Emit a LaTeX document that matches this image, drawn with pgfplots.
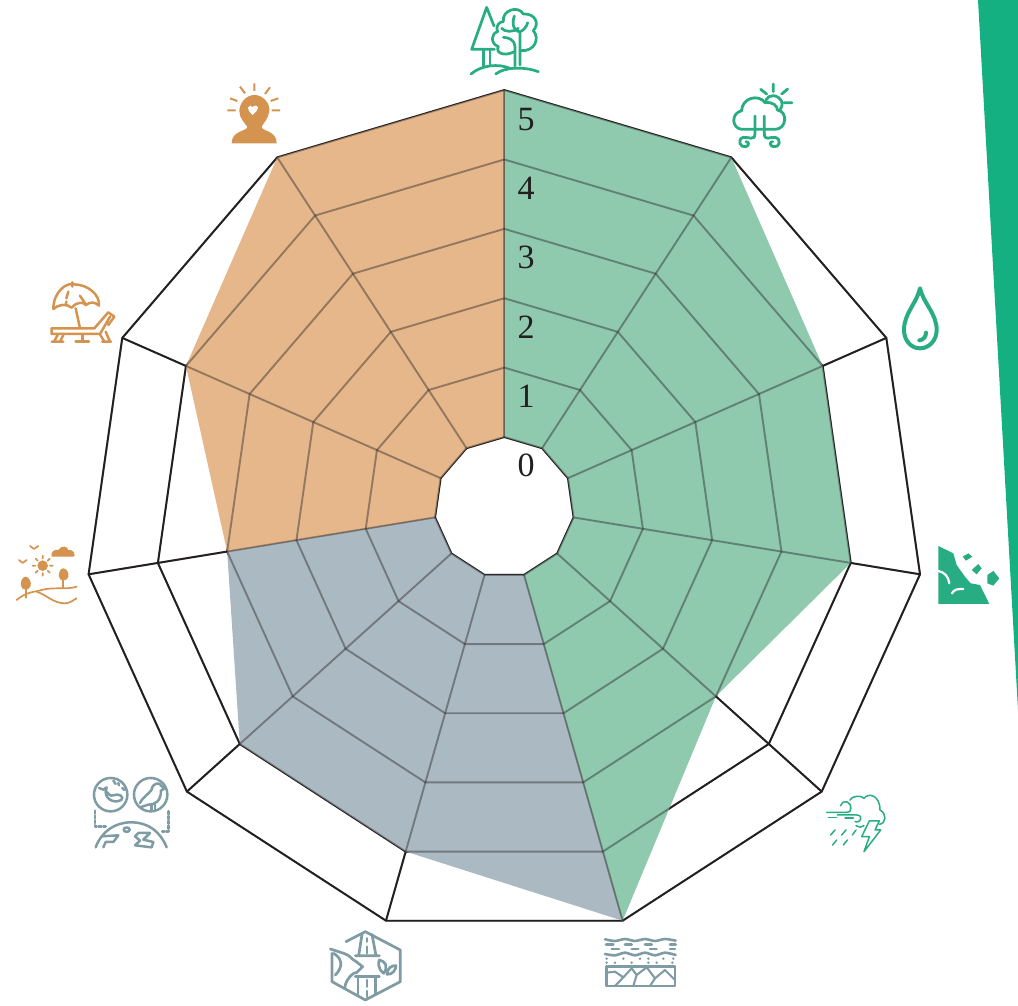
\documentclass[border=0pt]{standalone}
\usepackage{fontspec}
\setmainfont{Liberation Serif}
\usepackage{pgfplots}
\usepackage{pgfplotstable}
\pgfplotsset{compat=1.18}
\definecolor{ink}{HTML}{231F20}
\definecolor{wedge}{HTML}{14B082}
\definecolor{green1}{HTML}{8FC9AE}
\definecolor{gray1}{HTML}{ABBAC2}
\definecolor{orange1}{HTML}{E5B78B}
\definecolor{icg}{HTML}{27AD81}
\definecolor{icb}{HTML}{7F9BA4}
\definecolor{ico}{HTML}{D4934F}

% wedge values: angle (math degrees), value on the 0-5 scale
\pgfplotstableread{
a v
90 5
57.273 5
24.545 4
-8.182 4
-40.909 3
-73.636 5
-73.636 0
-40.909 0
-8.182 0
24.545 0
57.273 0
90 0
}\greendata
\pgfplotstableread{
a v
-73.636 5
-106.364 4
-139.091 4
-171.818 3
-171.818 0
-139.091 0
-106.364 0
-73.636 0
}\graydata
\pgfplotstableread{
a v
-171.818 3
-204.545 4
-237.273 5
-270 5
-270 0
-237.273 0
-204.545 0
-171.818 0
}\orangedata
\pgfplotstableread{
a v
90 0
57.273 0
24.545 0
-8.182 0
-40.909 0
-73.636 0
-106.364 0
-139.091 0
-171.818 0
-204.545 0
-237.273 0
-270 0
}\ringangles

% the rings have a hole in the middle and are not quite concentric
\newcommand\Rx[2]{(70+70*(#2))*cos(#1)}
\newcommand\Ry[2]{(70.4+70.7*(#2))*sin(#1)-1.32*(#2)}

\newcommand\drawgrid[1]{%
  \pgfplotsinvokeforeach{0,1,2,3,4,5}{
    \addplot[#1, line width=1.9pt, line join=miter]
      table[x expr={\Rx{\thisrow{a}}{##1}}, y expr={\Ry{\thisrow{a}}{##1}}] {\ringangles};
  }
  \pgfplotsinvokeforeach{90,57.273,24.545,-8.182,-40.909,-73.636,-106.364,-139.091,-171.818,-204.545,-237.273}{
    \addplot[#1, line width=1.9pt]
      table[x expr={\Rx{##1}{\thisrow{v}}}, y expr={\Ry{##1}{\thisrow{v}}}, row sep=\\] {v w\\ 0 0\\ 5 0\\};
  }
}

\tikzset{crop/.style 2 args={shift={(#1pt,1005pt-#2pt)},x=0.33333pt,y=-0.33333pt}}

\begin{document}
\begin{tikzpicture}
\useasboundingbox (0,0) rectangle (1018pt,1005pt);
\begin{axis}[
  x=1pt, y=1pt,
  xmin=-504.3, xmax=513.7,
  ymin=-497.6, ymax=507.4,
  hide axis, clip=false,
]
\drawgrid{ink}
\addplot[fill=green1, draw=none]
  table[x expr={\Rx{\thisrow{a}}{\thisrow{v}}}, y expr={\Ry{\thisrow{a}}{\thisrow{v}}}] {\greendata};
\addplot[fill=gray1, draw=none]
  table[x expr={\Rx{\thisrow{a}}{\thisrow{v}}}, y expr={\Ry{\thisrow{a}}{\thisrow{v}}}] {\graydata};
\addplot[fill=orange1, draw=none]
  table[x expr={\Rx{\thisrow{a}}{\thisrow{v}}}, y expr={\Ry{\thisrow{a}}{\thisrow{v}}}] {\orangedata};
% the grid shows through the fills
\drawgrid{ink, opacity=0.42}
\end{axis}

% everything below is in reference pixels
\begin{scope}[shift={(0,1005pt)},x=1pt,y=-1pt]
\fill[wedge] (978,0) -- (1018,0) -- (1018,710) -- cycle;
\foreach \n/\yy in {0/465,1/396,2/327,3/257,4/188,5/120}
  \node[text=ink,inner sep=0pt,font=\fontsize{34}{34}\selectfont] at (526,\yy) {\n};
\end{scope}

% trees
\begin{scope}[crop={455}{0},icg,line width=2.7pt,line cap=round,line join=round]
\draw (117,78) -- (95,22) -- (50,148) -- (118,148);
\draw (85,150) -- (85,198) (105,150) -- (105,195);
\draw (48,222) .. controls (80,195) and (130,190) .. (165,205);
\draw (122,222) .. controls (150,200) and (210,200) .. (250,215);
\draw (178,155) .. controls (150,170) and (120,160) .. (130,140) .. controls (105,130) and (108,100) .. (128,95)
  .. controls (120,75) and (135,65) .. (145,65) .. controls (140,30) and (190,15) .. (205,42)
  .. controls (240,40) and (255,70) .. (235,92) .. controls (255,115) and (240,155) .. (197,152);
\draw (180,198) -- (180,140) .. controls (180,120) and (160,112) .. (145,112);
\draw (195,195) -- (195,95) .. controls (175,95) and (170,70) .. (178,48);
\draw (195,95) .. controls (205,92) and (215,80) .. (218,68);
\draw (140,85) .. controls (150,97) and (175,97) .. (190,85);
\end{scope}
% cloud and sun
\begin{scope}[crop={720}{80},icg,line width=2.8pt,line cap=round,line join=round]
\draw (65,148) .. controls (35,145) and (32,100) .. (65,92) .. controls (65,55) and (115,40) .. (135,68)
  .. controls (160,65) and (172,78) .. (172,90) .. controls (205,95) and (200,148) .. (165,148) -- (65,148);
\draw (138,60) .. controls (145,42) and (175,42) .. (185,65) .. controls (188,75) and (185,85) .. (178,92);
\draw (160,12) -- (160,35) (122,28) -- (140,42) (185,42) -- (203,27) (192,68) -- (216,68);
\draw (105,108) -- (105,160) .. controls (105,185) and (85,170) .. (70,172) .. controls (50,178) and (60,205) .. (78,200) .. controls (88,197) and (88,185) .. (78,185);
\draw (133,108) -- (133,160) .. controls (133,185) and (150,170) .. (165,172) .. controls (187,178) and (178,205) .. (160,200) .. controls (148,197) and (148,185) .. (158,185);
\end{scope}
% drop
\begin{scope}[crop={890}{280},icg,line width=4pt,line cap=round,line join=round]
\draw (90,25) .. controls (80,70) and (42,100) .. (42,150) .. controls (42,180) and (62,205) .. (90,205)
  .. controls (118,205) and (140,180) .. (140,150) .. controls (140,100) and (100,70) .. (90,25) -- cycle;
\draw (88,181) .. controls (100,180) and (108,170) .. (108,158);
\end{scope}
% landslide
\begin{scope}[crop={930}{535},line cap=round,line join=round]
\fill[icg] (25,33) -- (70,55) -- (80,90) -- (105,125) -- (122,145) -- (150,150) -- (178,207) -- (25,207) -- cycle;
\fill[icg] (98,65) -- (115,55) -- (127,65) -- (108,77) -- cycle;
\fill[icg] (125,105) -- (145,87) -- (155,100) -- (140,118) -- cycle;
\fill[icg] (172,120) -- (190,108) -- (208,130) -- (190,152) -- (172,145) -- cycle;
\draw[white,line width=2.2pt] (25,108) .. controls (45,112) and (55,125) .. (58,145);
\draw[white,line width=2.2pt] (66,175) .. controls (72,162) and (85,162) .. (100,162);
\end{scope}
% storm
\begin{scope}[crop={820}{785},icg,line width=1.5pt,line cap=round,line join=round]
\draw (90,45) .. controls (95,32) and (125,30) .. (132,40) .. controls (145,22) and (180,30) .. (180,75)
  .. controls (200,85) and (200,115) .. (178,118);
\draw (92,72) .. controls (95,50) and (70,40) .. (62,62);
\draw (20,82) -- (78,82) .. controls (90,82) and (95,75) .. (92,68);
\draw (25,97) -- (50,97);
\draw (52,90) -- (110,90) .. controls (130,90) and (125,115) .. (105,110);
\draw (75,99) -- (100,99);
\draw (108,122) .. controls (115,128) and (125,128) .. (132,122);
\draw (148,108) -- (178,108) -- (165,135) -- (182,135) -- (132,200) -- (148,155) -- (125,155) -- cycle;
\draw (45,135) -- (32,150) (78,135) -- (65,150) (108,135) -- (97,150) (50,165) -- (38,180) (82,165) -- (70,180);
\end{scope}
% water and soil layers
\begin{scope}[crop={595}{930},icb,line cap=round,line join=round]
\draw[line width=2.6pt] plot[smooth] coordinates {(30,28) (60,33) (90,27) (120,33) (150,27) (180,33) (210,27) (242,32)};
\draw[line width=2.6pt] plot[smooth] coordinates {(30,72) (60,76) (90,68) (120,76) (150,68) (180,76) (210,68) (242,75)};
\draw[line width=2.6pt] (33,43) -- (55,43) (90,43) -- (110,43) (150,43) -- (170,43) (225,43) -- (242,43);
\draw[line width=2.6pt] (50,57) -- (72,57) (110,57) -- (130,57) (165,57) -- (185,57) (225,57) -- (240,57);
\foreach \px in {35,85,135,160,205,235} \fill (\px,86) circle (1.4pt);
\foreach \px in {35,60,110,160,185,232} \fill (\px,98) circle (1.4pt);
\draw[line width=2.8pt] (35,110) rectangle (240,168);
\draw[line width=2.1pt] (35,128) -- (60,125) -- (85,142) -- (60,168);
\draw[line width=2.1pt] (85,142) -- (110,115) -- (125,135) -- (115,168);
\draw[line width=2.1pt] (125,135) -- (155,112) -- (180,145) -- (165,168);
\draw[line width=2.1pt] (180,145) -- (210,120) -- (240,150);
\end{scope}
% habitat hexagon
\begin{scope}[crop={322}{925},icb,line width=2.7pt,line cap=round,line join=round]
\draw (72,50) -- (130,20) -- (235,75) -- (235,170) -- (130,225) -- (30,170) -- (30,85);
\draw (120,28) -- (110,92) (150,28) -- (162,92) (100,92) -- (172,92);
\draw (100,155) -- (172,155) (108,155) -- (108,208) (160,155) -- (160,208);
\draw (135,40) -- (135,50) (135,65) -- (135,85) (135,165) -- (135,185) (135,198) -- (135,215);
\draw (25,72) -- (65,85) .. controls (85,90) and (90,105) .. (100,108) -- (122,125) -- (105,142) -- (95,145) .. controls (75,160) and (70,175) .. (68,190);
\draw (35,85) .. controls (60,100) and (65,125) .. (40,150);
\draw (185,145) .. controls (165,130) and (170,110) .. (172,105) .. controls (190,108) and (200,125) .. (185,145) -- cycle;
\draw (195,148) .. controls (195,130) and (210,120) .. (222,122) .. controls (222,135) and (210,150) .. (195,148) -- cycle;
\end{scope}
% whale, bird and globe
\begin{scope}[crop={85}{768},icb,line width=2.5pt,line cap=round,line join=round]
\draw (77,80) circle (16.7pt) (197,80) circle (16.7pt);
\draw (42,60) -- (55,65) -- (65,58) -- (62,72) .. controls (62,95) and (90,108) .. (110,95) .. controls (118,85) and (100,75) .. (85,82) .. controls (72,88) and (70,70) .. (62,72);
\draw (85,38) -- (92,48) (100,45) -- (102,52) (112,60) -- (118,66);
\draw (165,105) .. controls (175,85) and (190,80) .. (200,65) .. controls (202,45) and (225,40) .. (230,55) -- (240,60) -- (228,68) .. controls (228,100) and (210,110) .. (190,110) -- (165,118);
\draw (200,110) -- (200,128) (210,108) -- (210,128);
\draw[dotted,line width=2.8pt] (30,128) -- (30,175) -- (62,175);
\draw[dotted,line width=2.8pt] (250,130) -- (250,190) -- (232,190);
\draw (32,238) .. controls (50,190) and (90,163) .. (138,163) .. controls (190,163) and (225,190) .. (245,238);
\draw (50,205) -- (100,202) -- (85,222) -- (62,222) -- (55,238);
\draw (160,195) -- (195,195) -- (175,215) -- (205,222) -- (200,238) -- (150,232) -- (165,218) -- (150,205) -- cycle;
\draw (125,185) ellipse (3pt and 2.2pt);
\end{scope}
% landscape
\begin{scope}[crop={10}{535},ico,line width=1.7pt,line cap=round,line join=round]
\fill (98,92) circle (5.3pt);
\draw (98,62) -- (98,70) (98,114) -- (98,122) (68,92) -- (76,92) (120,92) -- (128,92)
  (77,71) -- (83,77) (113,107) -- (119,113) (119,71) -- (113,77) (83,107) -- (77,113);
\draw (60,33) -- (72,42) -- (85,33) (27,75) -- (38,84) -- (50,75);
\fill (125,65) .. controls (120,50) and (135,42) .. (145,45) .. controls (155,28) and (175,35) .. (175,45) .. controls (190,40) and (200,65) .. (190,65) -- cycle;
\fill (160,100) .. controls (170,100) and (178,115) .. (175,125) .. controls (172,140) and (148,140) .. (147,125) .. controls (145,115) and (150,100) .. (160,100) -- cycle;
\fill (47,125) .. controls (57,125) and (65,142) .. (62,152) .. controls (58,168) and (35,168) .. (33,152) .. controls (30,142) and (37,125) .. (47,125) -- cycle;
\draw (160,130) -- (160,158) (47,160) -- (47,188);
\draw (20,195) .. controls (50,170) and (70,172) .. (95,165) .. controls (130,155) and (170,165) .. (200,155);
\draw (80,170) .. controls (110,180) and (130,205) .. (165,205) .. controls (180,205) and (190,195) .. (200,190);
\end{scope}
% beach
\begin{scope}[crop={45}{275},ico,line width=2.5pt,line cap=round,line join=round]
\draw (25,102) .. controls (25,50) and (65,22) .. (85,28) .. controls (130,28) and (165,60) .. (162,92)
  .. controls (150,80) and (135,80) .. (123,90) .. controls (115,80) and (95,80) .. (80,98) .. controls (65,85) and (40,88) .. (25,102) -- cycle;
\draw (82,22) -- (82,35) (70,50) -- (64,70) (64,80) -- (62,90) (105,62) -- (122,88);
\draw (92,100) -- (105,160);
\draw (20,160) -- (20,177) -- (165,177) -- (195,125) (20,160) -- (148,160) -- (190,112) -- (208,125) -- (190,150) ;
\draw (38,180) -- (27,200) (55,180) -- (45,200) (20,200) -- (55,200);
\draw (112,180) -- (112,200) (92,200) -- (132,200);
\draw (165,178) -- (178,200) (182,170) -- (195,200) (172,200) -- (198,200);
\end{scope}
% well-being head
\begin{scope}[crop={220}{75},ico,line width=2pt,line cap=butt]
\fill (103,60) .. controls (130,60) and (150,85) .. (148,108) .. controls (146,130) and (130,145) .. (125,155)
  .. controls (125,170) and (170,165) .. (170,205) -- (35,205) .. controls (35,165) and (82,170) .. (82,155)
  .. controls (75,145) and (58,130) .. (58,108) .. controls (58,85) and (78,60) .. (103,60) -- cycle;
\fill[white] (98,120) .. controls (88,110) and (83,105) .. (84,98) .. controls (86,90) and (96,90) .. (98,97)
  .. controls (100,90) and (112,90) .. (114,98) .. controls (114,105) and (108,110) .. (98,120) -- cycle;
\draw (103,25) -- (103,48) (60,35) -- (75,55) (150,37) -- (135,57) (30,70) -- (52,78) (175,70) -- (152,78) (22,106) -- (47,106) (155,106) -- (180,106);
\end{scope}
\end{tikzpicture}
\end{document}
